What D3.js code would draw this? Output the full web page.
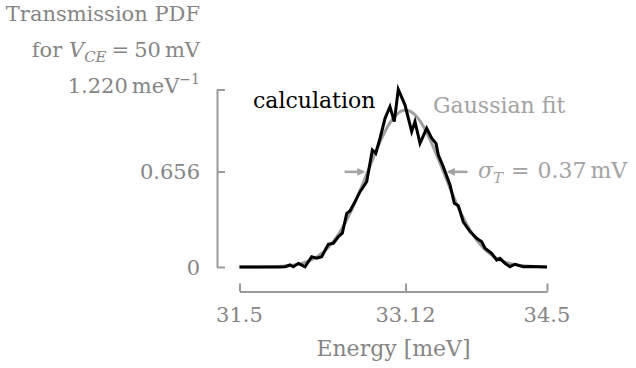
<!DOCTYPE html>
<html><head><meta charset="utf-8">
<script src="https://cdn.jsdelivr.net/npm/d3@7"></script>
<style>
html,body{margin:0;padding:0;background:#fff;}
svg{display:block;font-family:"DejaVu Serif",serif;}
</style></head>
<body>
<svg id="chart" width="636" height="368"></svg>
<script>
// ---- data ----
const energy = [31.5,31.895,31.944,31.993,32.025,32.074,32.139,32.204,32.253,32.302,32.366,32.415,32.464,32.503,32.546,32.578,32.627,32.676,32.741,32.796,32.829,32.871,32.92,32.968,33.01,33.049,33.115,33.18,33.212,33.261,33.326,33.375,33.417,33.44,33.488,33.554,33.596,33.635,33.683,33.749,33.814,33.863,33.895,33.96,34.009,34.041,34.09,34.139,34.188,34.269,34.334,34.5];
const pdf = [0,0,0.002,0.014,0.002,0.025,0.002,0.071,0.06,0.071,0.156,0.163,0.208,0.232,0.369,0.385,0.449,0.518,0.586,0.804,0.781,0.885,1.022,1.102,0.999,1.22,1.113,0.93,0.999,0.85,0.953,0.885,0.85,0.77,0.689,0.564,0.438,0.421,0.311,0.243,0.197,0.174,0.129,0.094,0.048,0.06,0.025,0.002,0.019,0.002,0.003,0];
const fitMean = 33.12, fitSigma = 0.37;
const xTicks = [31.5, 33.12, 34.5];
const xTickLabels = ["31.5", "33.12", "34.5"];
const yTicks = [0, 0.656, 1.22];
const yTickLabels = ["0", "0.656", "1.220"];

const svg = d3.select("#chart");
const x = d3.scaleLinear().domain([31.5, 34.5]).range([239.5, 547]);
const y = d3.scaleLinear().domain([0, 1.22]).range([267, 89.5]);
const axisGray = "#9a9a9a", textGray = "#858585", lightGray = "#a3a3a3";
const FS = 21, FW = 22;

// y axis (bracket, ticks pointing right)
const gy = svg.append("g").attr("transform", "translate(217,0)")
  .call(d3.axisLeft(y).tickValues(yTicks).tickSize(-8).tickSizeOuter(0).tickFormat(""));
gy.selectAll("path,line").attr("stroke", axisGray).attr("stroke-width", 2);
// x axis (ticks pointing up)
const gx = svg.append("g").attr("transform", "translate(0,291.5)")
  .call(d3.axisBottom(x).tickValues(xTicks).tickSize(-8).tickSizeOuter(0).tickFormat(""));
gx.selectAll("path,line").attr("stroke", axisGray).attr("stroke-width", 2);

// y tick labels
yTicks.forEach((v, i) => {
  const t = svg.append("text").attr("x", 200).attr("y", y(v) + 7.5)
    .attr("text-anchor", "end").attr("font-size", FS).attr("fill", textGray);
  if (i === 2) {
    t.attr("y", 93);
    t.append("tspan").text(yTickLabels[i]);
    t.append("tspan").attr("dx", 4).text("meV");
    t.append("tspan").attr("font-size", 14).attr("dy", -9).text("−1");
  } else t.text(yTickLabels[i]);
});
// x tick labels
xTicks.forEach((v, i) => {
  svg.append("text").attr("x", x(v)).attr("y", 322).attr("text-anchor", "middle")
    .attr("font-size", FS).attr("fill", textGray).text(xTickLabels[i]);
});
svg.append("text").attr("x", 393.5).attr("y", 356).attr("text-anchor", "middle")
  .attr("font-size", FW).attr("fill", textGray).text("Energy [meV]");

// y title
svg.append("text").attr("x", 200).attr("y", 21).attr("text-anchor", "end")
  .attr("font-size", FS).attr("fill", textGray).text("Transmission PDF");
const t2 = svg.append("text").attr("x", 200).attr("y", 57).attr("text-anchor", "end")
  .attr("font-size", FS).attr("fill", textGray);
t2.append("tspan").text("for ");
t2.append("tspan").attr("font-style", "italic").text("V");
t2.append("tspan").attr("font-style", "italic").attr("font-size", 15).attr("dy", 5).text("CE");
t2.append("tspan").attr("dy", -5).attr("dx", 5).text("=");
t2.append("tspan").attr("dx", 5).text("50");
t2.append("tspan").attr("dx", 4).text("mV");

// Gaussian fit
const fitE = d3.range(0, 301).map(i => 31.5 + i * 0.01);
const gauss = e => Math.exp(-0.5 * ((e - fitMean) / fitSigma) ** 2) / (fitSigma * Math.sqrt(2 * Math.PI));
const line = d3.line().x(d => x(d[0])).y(d => y(d[1]));
svg.append("path").datum(fitE.map(e => [e, gauss(e)])).attr("d", line)
  .attr("fill", "none").attr("stroke", "#a0a0a0").attr("stroke-width", 3);

// calculation
svg.append("path").datum(energy.map((e, i) => [e, pdf[i]])).attr("d", line)
  .attr("fill", "none").attr("stroke", "#000").attr("stroke-width", 3)
  .attr("stroke-linejoin", "miter").attr("stroke-miterlimit", 4);

// labels
svg.append("text").attr("x", 253).attr("y", 108).attr("font-size", FW).attr("fill", "#000").text("calculation");
svg.append("text").attr("x", 433).attr("y", 113).attr("font-size", FW).attr("fill", lightGray).text("Gaussian fit");

// sigma arrows
const defs = svg.append("defs");
defs.append("marker").attr("id", "ah").attr("viewBox", "0 0 10 10").attr("refX", 8).attr("refY", 5)
  .attr("markerWidth", 3.2).attr("markerHeight", 3.2).attr("orient", "auto")
  .append("path").attr("d", "M0,0L10,5L0,10Z").attr("fill", lightGray);
const ya = y(gauss(fitMean + fitSigma));
svg.append("line").attr("x1", x(fitMean - fitSigma) - 23).attr("x2", x(fitMean - fitSigma) - 4)
  .attr("y1", ya).attr("y2", ya).attr("stroke", lightGray).attr("stroke-width", 2.5).attr("marker-end", "url(#ah)");
svg.append("line").attr("x1", x(fitMean + fitSigma) + 24).attr("x2", x(fitMean + fitSigma) + 5)
  .attr("y1", ya).attr("y2", ya).attr("stroke", lightGray).attr("stroke-width", 2.5).attr("marker-end", "url(#ah)");
const st = svg.append("text").attr("x", 478).attr("y", 178).attr("font-size", FW).attr("fill", lightGray);
st.append("tspan").attr("font-style", "italic").text("σ");
st.append("tspan").attr("font-style", "italic").attr("font-size", 15).attr("dy", 5).text("T");
st.append("tspan").attr("dy", -5).attr("dx", 8).text("=");
st.append("tspan").attr("dx", 8).text("0.37");
st.append("tspan").attr("dx", 4).text("mV");
</script>
</body></html>
